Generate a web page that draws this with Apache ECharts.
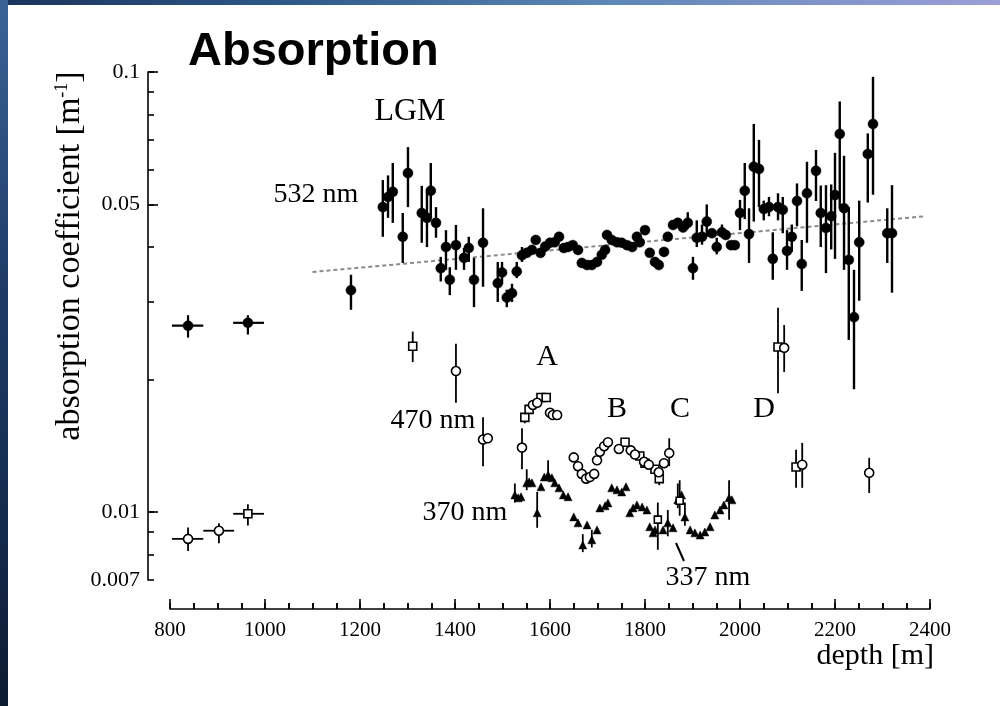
<!DOCTYPE html>
<html>
<head>
<meta charset="utf-8">
<script src="https://cdn.jsdelivr.net/npm/echarts@6/dist/echarts.min.js"></script>
<style>
html,body{margin:0;padding:0;}
body{width:1000px;height:706px;overflow:hidden;position:relative;
background:linear-gradient(90deg,#1b335c 0%,#2f5a8c 30%,#5d86b8 60%,#9c9fd8 100%);}
#strip{position:absolute;left:0;top:0;width:8px;height:706px;background:linear-gradient(180deg,#3b6496 0%,#1f3c68 40%,#142a4c 75%,#0e1a30 100%);}
#panel{position:absolute;left:8px;top:5px;width:992px;height:701px;background:#fff;}
#chart{position:absolute;left:0;top:0;width:1000px;height:706px;}
</style>
</head>
<body>
<div id="strip"></div>
<div id="panel"></div>
<div id="chart"></div>
<script>
// ---- data: [depth m, absorption 1/m, errLow, errHigh] ----
const xTicks = [800, 1000, 1200, 1400, 1600, 1800, 2000, 2200, 2400];
const xMinorTickValues = [800,850,900,950,1000,1050,1100,1150,1200,1250,1300,1350,1400,1450,1500,1550,1600,1650,1700,1750,1800,1850,1900,1950,2000,2050,2100,2150,2200,2250,2300,2350,2400];
const yLabelValues = [0.007, 0.01, 0.05, 0.1];
const yMinorTickValues = [0.007, 0.008, 0.009, 0.01, 0.02, 0.03, 0.04, 0.05, 0.06, 0.07, 0.08, 0.09, 0.1];
const yMajorTickValues = [0.01, 0.05, 0.1];

// 532 nm, shallow ice (with depth range)
const s532Shallow = [
  [838, 0.0265, 0.0249, 0.0280, 804, 870],
  [964, 0.0269, 0.0253, 0.0280, 933, 998]
];
// 532 nm, deep ice
const s532 = [
  [1181,0.0319,0.0288,0.0346],[1248,0.0493,0.0422,0.0568],[1259,0.0520,0.0466,0.0582],
  [1269,0.0534,0.0454,0.0621],[1290,0.0422,0.0368,0.0478],[1301,0.0589,0.0493,0.0675],
  [1330,0.0478,0.0409,0.0551],[1341,0.0466,0.0400,0.0534],[1349,0.0537,0.0468,0.0621],
  [1360,0.0454,0.0420,0.0493],[1370,0.0358,0.0334,0.0380],[1381,0.0400,0.0355,0.0437],
  [1389,0.0337,0.0311,0.0360],[1402,0.0404,0.0355,0.0449],[1419,0.0378,0.0355,0.0398],
  [1429,0.0398,0.0370,0.0422],[1440,0.0337,0.0292,0.0378],[1459,0.0409,0.0325,0.0490],
  [1490,0.0331,0.0300,0.0370],[1499,0.0350,0.0330,0.0370],[1509,0.0307,0.0292,0.0320],
  [1520,0.0314,0.0300,0.0330],[1530,0.0352,0.0340,0.0370],[1541,0.0383,0.0370,0.0400],
  [1551,0.0388,null,null],[1562,0.0394,null,null],[1570,0.0415,null,null],[1580,0.0388,null,null],
  [1590,0.0401,null,null],[1600,0.0409,null,null],[1610,0.0410,null,null],[1619,0.0422,null,null],
  [1629,0.0398,null,null],[1638,0.0400,null,null],[1648,0.0404,null,null],[1659,0.0394,null,null],
  [1667,0.0368,null,null],[1678,0.0364,null,null],[1688,0.0364,null,null],[1699,0.0370,null,null],
  [1709,0.0384,null,null],[1716,0.0394,null,null],[1720,0.0426,null,null],[1730,0.0415,null,null],
  [1741,0.0410,null,null],[1751,0.0409,null,null],[1762,0.0404,null,null],[1773,0.0400,null,null],
  [1783,0.0422,null,null],[1789,0.0410,null,null],[1800,0.0437,null,null],[1810,0.0388,null,null],
  [1821,0.0370,null,null],[1829,0.0364,null,null],[1840,0.0390,null,null],[1848,0.0422,null,null],
  [1859,0.0449,null,null],[1869,0.0454,null,null],[1880,0.0443,null,null],
  [1890,0.0454,0.0440,0.0480],[1901,0.0358,0.0337,0.0380],[1909,0.0420,0.0400,0.0460],
  [1920,0.0422,0.0405,0.0450],[1930,0.0457,0.0422,0.0500],[1941,0.0430,null,null],
  [1951,0.0400,0.0385,0.0420],[1962,0.0432,0.0420,0.0450],[1970,0.0426,null,null],
  [1981,0.0404,null,null],[1989,0.0404,null,null],
  [2000,0.0478,0.0437,0.0512],[2010,0.0537,0.0463,0.0621],[2019,0.0428,0.0368,0.0490],
  [2029,0.0609,0.0457,0.0762],[2040,0.0602,0.0493,0.0701],[2050,0.0488,0.0460,0.0510],
  [2061,0.0493,0.0470,0.0520],[2069,0.0376,0.0337,0.0432],[2080,0.0493,0.0460,0.0530],
  [2090,0.0486,0.0430,0.0520],[2099,0.0392,0.0355,0.0437],[2109,0.0422,0.0390,0.0450],
  [2120,0.0509,0.0446,0.0558],[2130,0.0366,0.0318,0.0415],[2141,0.0530,0.0409,0.0625],
  [2160,0.0596,0.0509,0.0665],[2170,0.0478,0.0400,0.0552],[2181,0.0442,0.0349,0.0553],
  [2192,0.0470,0.0395,0.0555],[2200,0.0525,0.0376,0.0655],[2210,0.0723,0.0490,0.0857],
  [2219,0.0490,0.0355,0.0645],[2229,0.0374,0.0246,0.0493],[2240,0.0277,0.0190,0.0355],
  [2251,0.0410,0.0302,0.0510],[2269,0.0651,0.0505,0.0725],[2280,0.0762,0.0526,0.0975],
  [2310,0.0430,0.0368,0.0490],[2320,0.0430,0.0315,0.0553]
];
// dotted trend of 532 nm
const trend532 = [[1100, 0.0351], [2390, 0.0470]];

// 470 nm, open squares
const s470sqShallow = [[964, 0.0099, 0.00931, 0.0104, 933, 998]];
const s470sq = [
  [1311,0.0238,0.0219,0.0257],[1547,0.0164,0.0159,0.0164],[1556,0.0171,null,null],
  [1581,0.0182,null,null],[1592,0.0182,null,null],[1758,0.0144,null,null],
  [1789,0.0134,null,null],[1800,0.0129,null,null],[1821,0.0125,null,null],
  [1830,0.0119,0.0115,0.0123],[2080,0.0237,0.0186,0.0291],[2118,0.01265,0.01134,0.01384]
];
// 470 nm, open circles
const s470ciShallow = [
  [838, 0.00868, 0.00815, 0.00921, 804, 870],
  [903, 0.00906, 0.00848, 0.00942, 870, 935]
];
const s470ci = [
  [1402,0.0209,0.0177,0.0241],[1459,0.0146,0.0127,0.0164],[1469,0.0147,null,null],
  [1541,0.0140,0.0125,0.0155],[1564,0.0175,null,null],[1573,0.0177,null,null],
  [1600,0.0168,null,null],[1606,0.0166,null,null],[1615,0.0166,null,null],
  [1650,0.0133,null,null],[1659,0.0127,null,null],[1667,0.0122,null,null],
  [1676,0.0119,null,null],[1684,0.0120,null,null],[1693,0.0122,null,null],
  [1699,0.0131,null,null],[1705,0.0137,null,null],[1714,0.0141,null,null],
  [1722,0.0144,null,null],[1745,0.0139,null,null],[1770,0.0138,null,null],
  [1779,0.0135,null,null],[1798,0.0130,null,null],[1808,0.0128,null,null],
  [1829,0.0123,null,null],[1840,0.0129,null,null],[1851,0.0136,0.0127,0.0147],
  [2093,0.0236,0.0208,0.0266],[2131,0.0128,0.01134,0.01435],[2272,0.01227,0.01104,0.01327]
];
// 370 nm, filled triangles
const s370 = [
  [1526,0.01093,0.0105,0.0116],[1533,0.01076,null,null],[1539,0.01082,null,null],
  [1551,0.01164,0.0112,0.0125],[1556,0.0117,null,null],[1562,0.01164,null,null],
  [1573,0.00995,0.0092,0.0111],[1581,0.0114,null,null],[1588,0.0120,null,null],
  [1596,0.01214,0.0118,0.0131],[1604,0.01195,null,null],[1610,0.01164,null,null],
  [1619,0.01134,null,null],[1628,0.01093,null,null],[1638,0.01082,null,null],
  [1650,0.00974,null,null],[1659,0.00944,null,null],[1669,0.00841,0.0081,0.0089],
  [1678,0.00934,null,null],[1688,0.00864,0.0083,0.0091],[1699,0.0091,null,null],
  [1705,0.01021,null,null],[1716,0.01032,null,null],[1722,0.01048,null,null],
  [1730,0.01134,null,null],[1741,0.01122,null,null],[1751,0.0111,null,null],
  [1760,0.0114,null,null],[1768,0.00995,null,null],[1775,0.01021,null,null],
  [1783,0.01037,null,null],[1794,0.01026,null,null],[1804,0.0101,null,null],
  [1810,0.00925,null,null],[1817,0.00896,null,null],[1821,0.0091,null,null],
  [1838,0.0091,null,null],[1848,0.00944,0.0088,0.0101],[1859,0.0092,null,null],
  [1869,0.01065,0.0102,0.0116],[1877,0.01093,null,null],[1884,0.00974,0.0093,0.0105],
  [1895,0.0091,null,null],[1905,0.00896,null,null],[1916,0.00886,null,null],
  [1926,0.0090,null,null],[1937,0.00925,null,null],[1947,0.00984,null,null],
  [1958,0.0101,null,null],[1966,0.01037,null,null],[1977,0.01076,0.0096,0.0118],
  [1983,0.01065,null,null]
];
// 337 nm, open squares
const s337 = [
  [1827,0.0096,0.0082,0.0105],[1873,0.0106,0.0098,0.0118]
];

// ---- helpers ----
const SERIF = 'Liberation Serif';
function errBars(data, width) {
  return {
    type: 'custom', silent: true, z: 2,
    encode: { x: 0, y: 1 },
    data: data,
    renderItem: function (params, api) {
      const x = api.value(0), y = api.value(1);
      const lo = api.value(2), hi = api.value(3);
      const children = [];
      if (isFinite(lo) && isFinite(hi) && lo > 0 && hi > 0) {
        const a = api.coord([x, lo]), b = api.coord([x, hi]);
        children.push({ type: 'line', shape: { x1: a[0], y1: a[1], x2: b[0], y2: b[1] },
          style: { stroke: '#000', lineWidth: width } });
      }
      const dlo = api.value(4), dhi = api.value(5);
      if (isFinite(dlo) && isFinite(dhi) && dlo > 0) {
        const a = api.coord([dlo, y]), b = api.coord([dhi, y]);
        children.push({ type: 'line', shape: { x1: a[0], y1: a[1], x2: b[0], y2: b[1] },
          style: { stroke: '#000', lineWidth: width } });
      }
      return { type: 'group', children: children };
    }
  };
}
function marks(name, data, symbol, size, filled) {
  return {
    type: 'scatter', name: name, z: 3,
    symbol: symbol, symbolSize: size,
    data: data.map(function (r) { return [r[0], r[1]]; }),
    itemStyle: filled ? { color: '#000', borderColor: '#000', borderWidth: 0.5, opacity: 1 }
                      : { color: '#fff', borderColor: '#000', borderWidth: 1.6, opacity: 1 },
    emphasis: { disabled: true }
  };
}

const chart = echarts.init(document.getElementById('chart'), null, { renderer: 'canvas' });
const axisLineStyle = { color: '#000', width: 1.6 };
const tickLine = { color: '#000', width: 1.6 };
const option = {
  backgroundColor: 'transparent',
  animation: false,
  title: {
    text: 'Absorption', left: 183, top: 24,
    textStyle: { fontFamily: 'Liberation Sans', fontWeight: 'bold', fontSize: 47, color: '#000' }
  },
  grid: { left: 170, right: 70, top: 72, bottom: 126, containLabel: false },
  xAxis: [{
    type: 'value', min: xTicks[0], max: xTicks[xTicks.length - 1], interval: 200,
    offset: 29, position: 'bottom',
    axisLine: { show: true, lineStyle: axisLineStyle },
    axisTick: { show: true, inside: true, length: 10, lineStyle: tickLine },
    minorTick: { show: true, splitNumber: 4, length: 6, lineStyle: tickLine },
    axisLabel: { color: '#000', fontFamily: SERIF, fontSize: 21, margin: 11,
      formatter: function (v) { return String(v); } },
    splitLine: { show: false }, minorSplitLine: { show: false },
    name: 'depth [m]', nameLocation: 'end', nameGap: 4,
    nameTextStyle: { color: '#000', fontFamily: SERIF, fontSize: 30, align: 'right', verticalAlign: 'top', padding: [32, 0, 0, 0] }
  }, {
    type: 'value', min: xTicks[0], max: xTicks[xTicks.length - 1], interval: 200,
    offset: 29, position: 'bottom',
    axisLine: { show: false },
    axisTick: { show: true, inside: true, length: 6, customValues: xMinorTickValues, lineStyle: tickLine },
    axisLabel: { show: false },
    splitLine: { show: false }
  }],
  yAxis: [{
    type: 'log', logBase: 10, min: 0.007, max: 0.1, position: 'left', offset: 22,
    axisLine: { show: true, lineStyle: axisLineStyle },
    axisTick: { show: true, inside: true, length: 6, customValues: yMinorTickValues, lineStyle: tickLine },
    axisLabel: { show: true, customValues: yLabelValues, color: '#000', fontFamily: SERIF, fontSize: 22, margin: 8,
      formatter: function (v) { return String(+(+v).toPrecision(3)); } },
    splitLine: { show: false }
  }, {
    type: 'log', logBase: 10, min: 0.007, max: 0.1, position: 'left', offset: 22,
    axisLine: { show: false },
    axisTick: { show: true, inside: true, length: 10, customValues: yMajorTickValues, lineStyle: tickLine },
    axisLabel: { show: false },
    splitLine: { show: false }
  }],
  series: [
    { type: 'line', name: 'trend', data: trend532, symbol: 'none', z: 1, silent: true,
      lineStyle: { color: '#8a8a8a', width: 2, type: [4, 3] } },
    errBars(s532Shallow, 2.2), errBars(s532, 2.4),
    errBars(s470sqShallow, 1.8), errBars(s470sq, 1.8),
    errBars(s470ciShallow, 1.8), errBars(s470ci, 1.8),
    errBars(s370, 1.8), errBars(s337, 1.8),
    marks('532 nm shallow', s532Shallow, 'circle', 10, true),
    marks('532 nm', s532, 'circle', 10, true),
    marks('370 nm', s370, 'triangle', 8, true),
    marks('337 nm', s337, 'rect', 7, false),
    marks('470 nm sq shallow', s470sqShallow, 'rect', 8, false),
    marks('470 nm sq', s470sq, 'rect', 8, false),
    marks('470 nm ci shallow', s470ciShallow, 'circle', 9, false),
    marks('470 nm ci', s470ci, 'circle', 9, false)
  ],
  graphic: [
    { type: 'text', x: 410, y: 112, style: { text: 'LGM', font: '32px "Liberation Serif"', fill: '#000', align: 'center', verticalAlign: 'middle' } },
    { type: 'text', x: 316, y: 195, style: { text: '532 nm', font: '28px "Liberation Serif"', fill: '#000', align: 'center', verticalAlign: 'middle' } },
    { type: 'text', x: 433, y: 421, style: { text: '470 nm', font: '28px "Liberation Serif"', fill: '#000', align: 'center', verticalAlign: 'middle' } },
    { type: 'text', x: 465, y: 513, style: { text: '370 nm', font: '28px "Liberation Serif"', fill: '#000', align: 'center', verticalAlign: 'middle' } },
    { type: 'text', x: 708, y: 578, style: { text: '337 nm', font: '28px "Liberation Serif"', fill: '#000', align: 'center', verticalAlign: 'middle' } },
    { type: 'text', x: 547, y: 357, style: { text: 'A', font: '30px "Liberation Serif"', fill: '#000', align: 'center', verticalAlign: 'middle' } },
    { type: 'text', x: 617, y: 409, style: { text: 'B', font: '30px "Liberation Serif"', fill: '#000', align: 'center', verticalAlign: 'middle' } },
    { type: 'text', x: 680, y: 409, style: { text: 'C', font: '30px "Liberation Serif"', fill: '#000', align: 'center', verticalAlign: 'middle' } },
    { type: 'text', x: 764, y: 409, style: { text: 'D', font: '30px "Liberation Serif"', fill: '#000', align: 'center', verticalAlign: 'middle' } },
    { type: 'line', shape: { x1: 676, y1: 543, x2: 684, y2: 561 }, style: { stroke: '#000', lineWidth: 2 } },
    { type: 'text', x: 70, y: 256, rotation: Math.PI / 2,
      style: { text: 'absorption coefficient [m{sup|-1}]', font: '34px "Liberation Serif"', fill: '#000',
        align: 'center', verticalAlign: 'middle',
        rich: { sup: { fontSize: 18, fontFamily: 'Liberation Serif', verticalAlign: 'top', fill: '#000' } } } }
  ]
};
chart.setOption(option);
</script>
</body>
</html>
